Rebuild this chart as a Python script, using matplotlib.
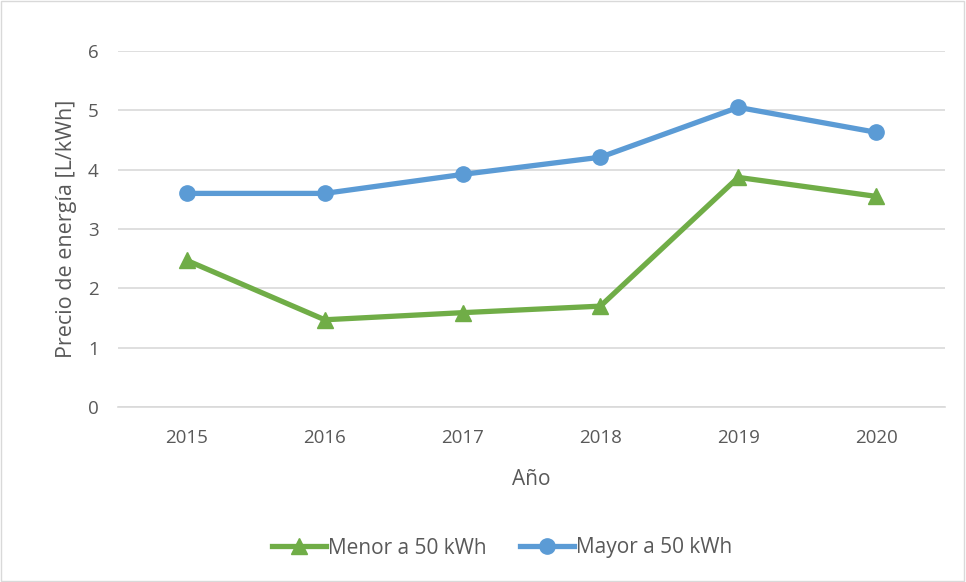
import matplotlib
matplotlib.use("Agg")
import matplotlib.pyplot as plt
from matplotlib.patches import Rectangle

years = ["2015", "2016", "2017", "2018", "2019", "2020"]
menor = [2.47, 1.47, 1.59, 1.70, 3.87, 3.55]
mayor = [3.60, 3.60, 3.92, 4.21, 5.05, 4.63]
yticks = [0, 1, 2, 3, 4, 5, 6]

plt.rcParams['font.family'] = ['Open Sans', 'DejaVu Sans']
txt = '#595959'

fig = plt.figure(figsize=(9.66, 5.82), dpi=100)
fig.patches.append(Rectangle((0.001, 0.001), 0.997, 0.997, transform=fig.transFigure,
                             fill=False, edgecolor='#d9d9d9', linewidth=1))
ax = fig.add_axes([118/966, 1-407/582, (945-118)/966, (407-51)/582])
x = list(range(len(years)))
ax.plot(x, menor, color='#70AD47', lw=3.8, marker='^', ms=11, label='Menor a 50 kWh', zorder=3)
ax.plot(x, mayor, color='#5B9BD5', lw=3.8, marker='o', ms=11, label='Mayor a 50 kWh', zorder=3)
ax.set_xlim(-0.5, 5.5)
ax.set_ylim(0, 6)
ax.set_yticks(yticks)
ax.set_xticks(x)
ax.set_xticklabels(years)
ax.grid(axis='y', color='#d9d9d9', lw=1.2)
ax.set_axisbelow(True)
for s in ['top', 'right', 'left']:
    ax.spines[s].set_visible(False)
ax.spines['bottom'].set_color('#d9d9d9')
ax.spines['bottom'].set_linewidth(1.2)
ax.tick_params(length=0, labelsize=13.5, colors=txt)
ax.tick_params(axis='x', pad=16)
ax.tick_params(axis='y', pad=14)
ax.set_xlabel('Año', fontsize=15, color=txt, labelpad=16)
ax.set_ylabel('Precio de energía [L/kWh]', fontsize=15.5, color=txt, labelpad=8)
fig.legend(loc='center', bbox_to_anchor=(0.52, 1-548/582), ncol=2, frameon=False,
           fontsize=15, labelcolor=txt, handlelength=2.6, columnspacing=1.6, handletextpad=0.1)
fig.savefig('out.png', dpi=100)
